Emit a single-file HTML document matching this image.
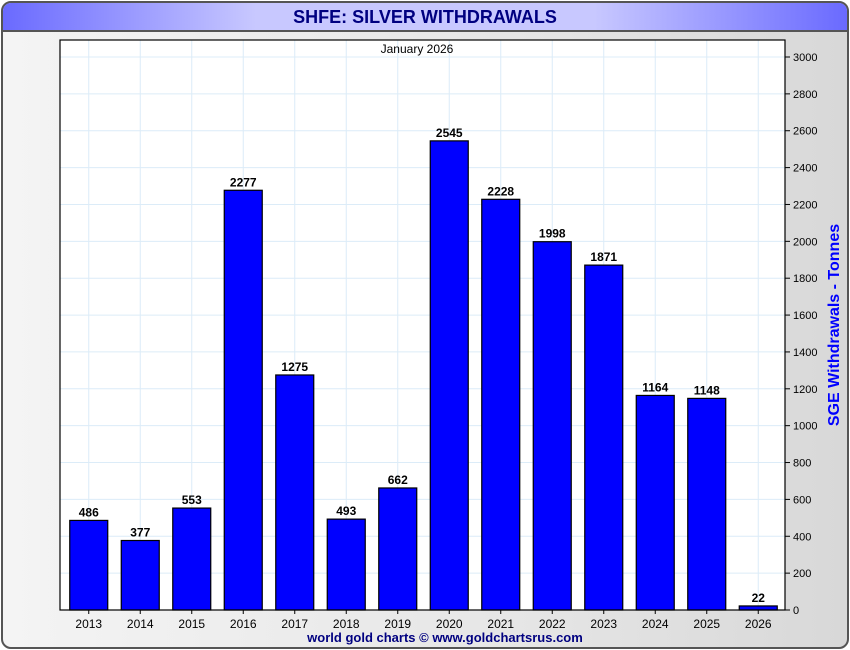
<!DOCTYPE html>
<html><head><meta charset="utf-8"><style>
body{margin:0;width:850px;height:650px;overflow:hidden;background:#fff;font-family:"Liberation Sans",sans-serif}
#frame{position:absolute;left:1px;top:1px;width:844px;height:644px;border:2px solid #555;border-radius:10px;background:linear-gradient(90deg,#f4f4f4,#e6e6e6 60%,#d8d8d8);overflow:hidden}
#title{position:absolute;left:0;top:0;width:844px;height:27px;background:linear-gradient(90deg,#6a6aff,#c8c8ff 30%,#c8c8ff 70%,#6a6aff);border-bottom:2px solid #555;text-align:center;font:bold 18px "Liberation Sans",sans-serif;color:#000080;line-height:28px}
svg{position:absolute;left:0;top:0}
</style></head><body>
<div id="frame">
<div id="title">SHFE: SILVER WITHDRAWALS</div>
</div>
<svg id="c" width="850" height="650"></svg>
<script>
const categories=["2013","2014","2015","2016","2017","2018","2019","2020","2021","2022","2023","2024","2025","2026"];
const values=[486,377,553,2277,1275,493,662,2545,2228,1998,1871,1164,1148,22];
const yTicks=[0,200,400,600,800,1000,1200,1400,1600,1800,2000,2200,2400,2600,2800,3000];
const L=60,R=785,T=40,B=610,yMax=3000,y3000=57;
const ns="http://www.w3.org/2000/svg",svg=document.getElementById('c');
const y=v=>B-(B-y3000)*v/yMax;
const bw=(R-L-4)/categories.length;
const x=i=>L+3+bw*(i+0.5);
function el(t,a,txt){const e=document.createElementNS(ns,t);for(const k in a)e.setAttribute(k,a[k]);if(txt!=null)e.textContent=txt;svg.appendChild(e);return e;}
const bg=el('rect',{x:L,y:T,width:R-L,height:B-T,fill:'#fff'});


yTicks.forEach(v=>{
 const g=el('line',{x1:L,x2:R,y1:y(v),y2:y(v),stroke:'#dcecf8','stroke-width':1});
 
 
 el('line',{x1:R,x2:R+5,y1:y(v),y2:y(v),stroke:'#000'});
 const t=el('text',{x:R+8,y:y(v)+4,'font-size':11,fill:'#000'},v);
 
 
});
categories.forEach((c,i)=>{
 const g=el('line',{x1:x(i),x2:x(i),y1:T,y2:B,stroke:'#dcecf8'});
 
 
});
categories.forEach((c,i)=>{
 const b=el('rect',{x:x(i)-19,y:y(values[i]),width:38,height:B-y(values[i]),fill:'#0000ff',stroke:'#000','stroke-width':1.2});
 
 
 const v=el('text',{x:x(i),y:y(values[i])-4,'font-size':12,'font-weight':'bold','text-anchor':'middle'},values[i]);
 
 
 el('line',{x1:x(i),x2:x(i),y1:B,y2:B+4,stroke:'#000'});
 const t=el('text',{x:x(i),y:B+18,'font-size':12,'text-anchor':'middle'},c);
 
 
});
const fr=el('rect',{x:L,y:T,width:R-L,height:B-T,fill:'none',stroke:'#000','stroke-width':1.2});


const st=el('text',{x:417,y:53,'font-size':12,'text-anchor':'middle'},'January 2026');


const yt=el('text',{x:839,y:325,'font-size':16,'font-weight':'bold',fill:'#0000ff','text-anchor':'middle',transform:'rotate(-90 839 325)'},'SGE Withdrawals - Tonnes');


const cr=el('text',{x:445,y:642,'font-size':13,'font-weight':'bold',fill:'#000080','text-anchor':'middle'},'world gold charts © www.goldchartsrus.com');


</script>
</body></html>
